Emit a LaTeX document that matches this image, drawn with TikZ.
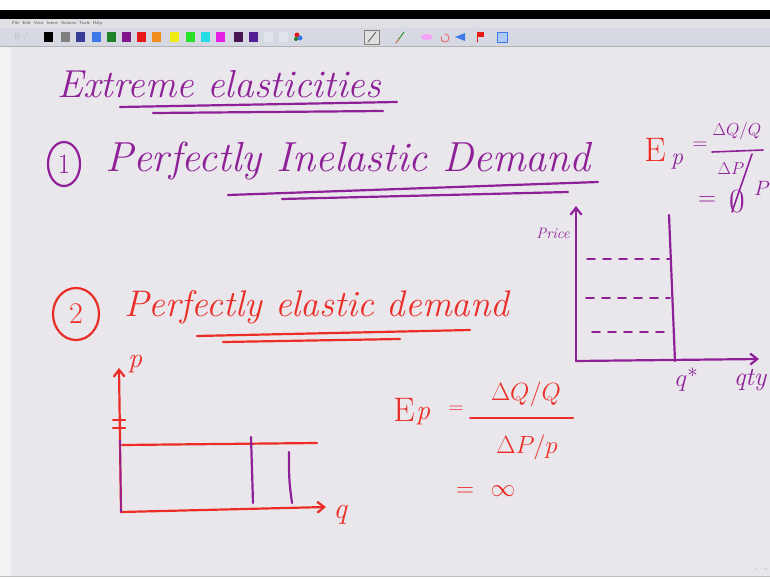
\documentclass[tikz,border=0pt]{standalone}
\usepackage{amsmath}
\usetikzlibrary{arrows.meta,positioning,shapes.geometric}
\definecolor{penpurple}{RGB}{142,32,152}
\definecolor{penred}{RGB}{236,44,38}
\definecolor{boardgray}{RGB}{233,231,235}
\definecolor{menugray}{RGB}{224,224,228}
\definecolor{toolgray}{RGB}{214,216,226}
\definecolor{swdark}{RGB}{55,60,150}
\definecolor{swblue}{RGB}{60,120,230}
\definecolor{swgreen}{RGB}{30,130,40}
\definecolor{swpurple}{RGB}{130,20,140}
\definecolor{swred}{RGB}{230,25,25}
\definecolor{sworange}{RGB}{240,140,30}
\definecolor{swyellow}{RGB}{240,235,20}
\definecolor{swlime}{RGB}{40,225,40}
\definecolor{swcyan}{RGB}{40,220,230}
\definecolor{swmagenta}{RGB}{230,30,230}
\definecolor{swplum}{RGB}{75,20,85}
\definecolor{swindigo}{RGB}{85,30,150}
\definecolor{swempty}{RGB}{226,228,236}

\begin{document}
\begin{tikzpicture}[x=1pt, y=-1pt, line cap=round, line join=round,
  ink/.style={line width=2.2pt},
  hand/.style={inner sep=0pt, font=\fontsize{40}{44}\selectfont\itshape},
  smallhand/.style={inner sep=0pt, font=\fontsize{24}{28}\selectfont\itshape},
  swatch/.style={inner sep=0pt, minimum width=9pt, minimum height=10pt},
  axisline/.style={ink, -{Straight Barb[length=7pt,width=11pt]}}]
  \useasboundingbox (0,0) rectangle (770,578);

  % screen and toolbar
  \fill[white] (0,0) rectangle (770,10);
  \fill[black] (0,10) rectangle (770,19);
  \fill[menugray] (0,19) rectangle (770,28);
  \fill[toolgray] (0,28) rectangle (770,46);
  \draw[gray!60] (0,46) -- (770,46);
  \fill[boardgray] (0,47) rectangle (770,576);
  \fill[gray!10] (0,47) rectangle (11,576);
  \draw[gray!50] (0,576.5) -- (770,576.5);
  \node[anchor=west, inner sep=0pt, gray!70!black, font=\fontsize{4.5}{5}\selectfont\sffamily] (menu) at (12,23.5)
    {File\ \ Edit\ \ View\ \ Insert\ \ Actions\ \ Tools\ \ Help};
  \node[anchor=west, inner sep=0pt, gray!50, font=\fontsize{9}{10}\selectfont\sffamily] (bold) at (14,37) {B\ /};
  \foreach \x/\c [count=\i] in {48/black, 65/gray, 80/swdark, 96/swblue, 111/swgreen, 126/swpurple,
      141/swred, 156/sworange, 174/swyellow, 190/swlime, 205/swcyan, 220/swmagenta,
      238/swplum, 253/swindigo, 268/swempty, 283/swempty}
    \node[swatch, fill=\c] (sw\i) at (\x,37) {};
  \fill[swred] (297,35) circle (2.5pt);
  \fill[swblue] (300,38) circle (2.5pt);
  \fill[swgreen] (296,39) circle (2pt);
  \node[swatch, draw=gray, fill=gray!25, minimum width=15pt, minimum height=14pt] (pentool) at (372,37) {};
  \draw[gray!70!black, thick] (368,42) -- (376,32);
  \draw[swlime!60!black, thick] (396,43) -- (404,32);
  \draw[swred!60, thick] (396,43) -- (399,39);
  \fill[swmagenta!40] (427,37) ellipse (6pt and 3pt);
  \draw[swred!70, thick] (445,34) arc (90:-200:4pt);
  \fill[swblue] (455,37) -- (465,33) -- (465,41) -- cycle;
  \draw[swred, thick] (477,42) -- (477,32);
  \fill[swred] (477,32) rectangle (484,37);
  \node[swatch, draw=swblue, fill=swblue!40, minimum width=10pt] (viewtool) at (502,37) {};
  \node[anchor=east, inner sep=0pt, gray!60, font=\fontsize{3.5}{4}\selectfont] (pageno) at (768,570) {6 / 10};

  % heading
  \node[hand, penpurple, anchor=base west, font=\fontsize{39}{43}\selectfont\itshape] (title) at (57,97) {Extreme elasticities};
  \draw[penpurple, ink] (120,107) -- (397,102);
  \draw[penpurple, ink] (153,113) -- (383,111);

  % (1) perfectly inelastic
  \node[penpurple, ink, draw, ellipse, minimum width=32pt, minimum height=44pt, inner sep=0pt,
        font=\fontsize{28}{30}\selectfont] (one) at (64,164) {1};
  \node[hand, penpurple, anchor=base west, font=\fontsize{42}{46}\selectfont\itshape] (inelastic) at (105,171) {Perfectly Inelastic Demand};
  \draw[penpurple, ink] (228,195) -- (598,182);
  \draw[penpurple, ink] (282,199) -- (568,192);

  % E_p = 0
  \node[penred, inner sep=0pt, font=\fontsize{34}{36}\selectfont] (eone) at (655,150) {E};
  \node[penpurple, smallhand] (pone) at (677,162) {p};
  \node[penpurple, inner sep=0pt, font=\fontsize{20}{22}\selectfont] (eqone) at (700,146) {$=$};
  \node[penpurple, inner sep=0pt, font=\fontsize{18}{20}\selectfont] (numone) at (737,131) {$\Delta Q/Q$};
  \draw[penpurple, line width=1.6pt] (712,152) -- (763,150);
  \node[penpurple, inner sep=0pt, font=\fontsize{19}{21}\selectfont] (denone) at (731,169) {$\Delta P$};
  \draw[penpurple, line width=1.6pt] (752,154) -- (732,212);
  \node[penpurple, inner sep=0pt, font=\fontsize{20}{22}\selectfont] (bigpone) at (762,188) {$P$};
  \node[penpurple, inner sep=0pt, font=\fontsize{24}{26}\selectfont] (eqzero) at (707,201) {$=$};
  \node[penpurple, inner sep=0pt, font=\fontsize{34}{36}\selectfont] (zero) at (737,202) {0};

  % inelastic demand graph
  \coordinate (rorig) at (576,361);
  \coordinate (rtop) at (576,206);
  \coordinate (rright) at (759,359);
  \coordinate (qtop) at (669,215);
  \coordinate (qbot) at (675,361);
  \draw[penpurple, axisline] (rorig) -- (rtop);
  \draw[penpurple, axisline] (rorig) -- (rright);
  \draw[penpurple, ink] (qtop) -- (qbot);
  \foreach \y/\xa in {259/587, 298/586, 332/592}
    \draw[penpurple, line width=1.8pt, dash pattern=on 8pt off 8pt] (\xa,\y) -- (670,\y);
  \node[penpurple, inner sep=0pt, font=\fontsize{15}{17}\selectfont\itshape] (price) at (553,233) {Price};
  \node[penpurple, inner sep=0pt, font=\fontsize{28}{30}\selectfont] (qstar) at (687,380) {$q^*$};
  \node[penpurple, smallhand, font=\fontsize{26}{28}\selectfont\itshape] (qty) at (750,380) {qty};

  % (2) perfectly elastic
  \node[penred, ink, draw, ellipse, minimum width=46pt, minimum height=52pt, inner sep=0pt,
        font=\fontsize{30}{32}\selectfont] (two) at (76,314) {2};
  \node[hand, penred, anchor=base west, font=\fontsize{37}{41}\selectfont\itshape] (elastic) at (124,316) {Perfectly elastic demand};
  \draw[penred, ink] (197,336) -- (470,330);
  \draw[penred, ink] (223,342) -- (400,339);

  % elastic demand graph
  \coordinate (lorig) at (121,512);
  \coordinate (ltop) at (119,368);
  \coordinate (lright) at (326,507);
  \coordinate (lflat) at (122,445);
  \coordinate (lflatend) at (317,443);
  \draw[penred, axisline] (lorig) -- (ltop);
  \draw[penred, axisline] (lorig) -- (lright);
  \draw[penred, ink] (lflat) -- (lflatend);
  \draw[penred, ink] (113,420) -- (125,420);
  \draw[penred, ink] (113,428) -- (125,428);
  \draw[penpurple, line width=1.6pt] (120,440) -- (121,512);
  \draw[penpurple, ink] (251,437) -- (253,503);
  \draw[penpurple, ink] (289,452) .. controls (289,480) .. (292,503);
  \node[penred, smallhand, font=\fontsize{28}{30}\selectfont\itshape] (plab) at (135,364) {p};
  \node[penred, smallhand, font=\fontsize{30}{32}\selectfont\itshape] (qlab) at (340,515) {q};

  % E_p = infinity
  \node[penred, inner sep=0pt, font=\fontsize{34}{36}\selectfont] (etwo) at (404,410) {E};
  \node[penred, smallhand, font=\fontsize{28}{30}\selectfont\itshape] (ptwo) at (423,416) {p};
  \node[penred, inner sep=0pt, font=\fontsize{22}{24}\selectfont] (eqtwo) at (456,410) {$=$};
  \node[penred, inner sep=0pt, font=\fontsize{26}{28}\selectfont] (numtwo) at (526,394) {$\Delta Q/Q$};
  \draw[penred, line width=2pt] (470,418) -- (573,418);
  \node[penred, inner sep=0pt, font=\fontsize{26}{28}\selectfont] (dentwo) at (527,447) {$\Delta P/p$};
  \node[penred, inner sep=0pt, font=\fontsize{26}{28}\selectfont] (eqinf) at (465,492) {$=$};
  \node[penred, inner sep=0pt, font=\fontsize{40}{42}\selectfont] (inf) at (503,491) {$\infty$};
\end{tikzpicture}
\end{document}
